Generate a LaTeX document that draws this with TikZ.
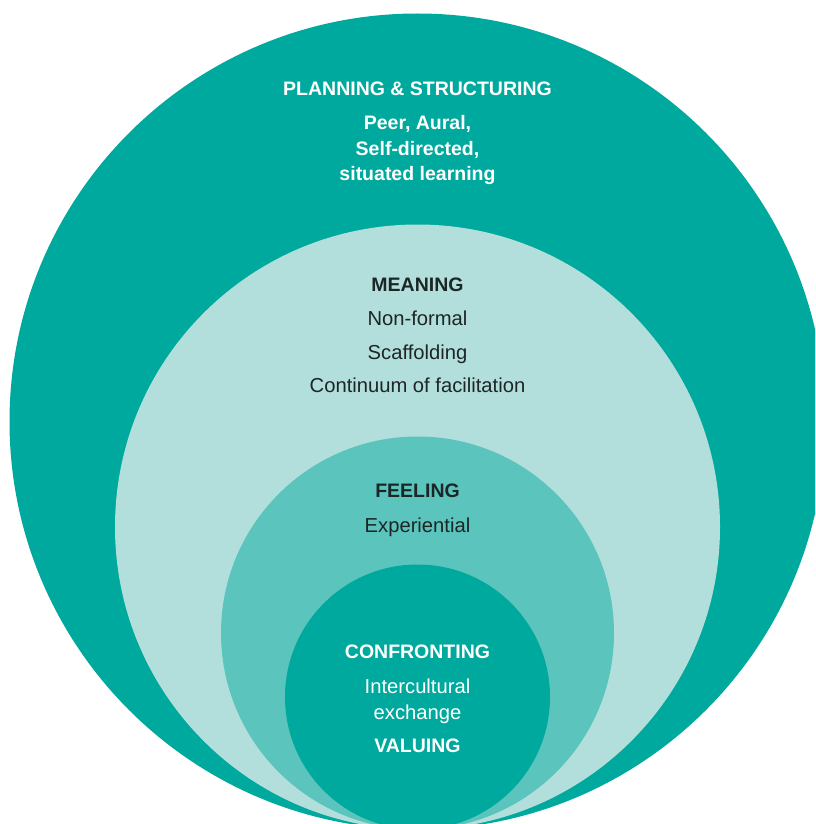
\documentclass[tikz,border=0pt]{standalone}
\usepackage{fontspec}
\setmainfont{Liberation Sans}
\definecolor{tealdark}{HTML}{00A99D}
\definecolor{teallight}{HTML}{B2DFDB}
\definecolor{tealmid}{HTML}{5BC4BC}
\definecolor{inkdark}{HTML}{1C2626}
\begin{document}
\begin{tikzpicture}[x=1pt,y=-1pt,
  ring/.style={fill=#1,draw=none},
  head/.style={anchor=base,inner sep=0pt,font=\fontsize{19.5}{22}\selectfont\bfseries},
  body/.style={anchor=base,inner sep=0pt,font=\fontsize{20.2}{22}\selectfont},
  bodybold/.style={anchor=base,inner sep=0pt,font=\fontsize{19.5}{22}\selectfont\bfseries},
  onteal/.style={text=white},
  onlight/.style={text=inkdark}]
\useasboundingbox (0,0) rectangle (815,824);
\clip (0,0) rectangle (815,824);
\fill[white] (0,0) rectangle (815,824);
\path[ring=tealdark]  (417.5,421.5) circle[radius=408];
\path[ring=teallight] (417.5,527) circle[radius=302.5];
\path[ring=tealmid]   (417.5,633) circle[radius=196.5];
\path[ring=tealdark]  (417.5,697) circle[radius=132.5];

\node[head,onteal] (ps) at (417.5,96) {PLANNING \& STRUCTURING};
\node[bodybold,onteal] (p1) at (417.5,130) {Peer, Aural,};
\node[bodybold,onteal] (p2) at (417.5,155) {Self-directed,};
\node[bodybold,onteal] (p3) at (417.5,180) {situated learning};

\node[head,onlight] (mn) at (417.5,291) {MEANING};
\node[body,onlight] (m1) at (417.5,325) {Non-formal};
\node[body,onlight] (m2) at (417.5,359) {Scaffolding};
\node[body,onlight] (m3) at (417.5,392) {Continuum of facilitation};

\node[head,onlight] (fe) at (417.5,497) {FEELING};
\node[body,onlight] (f1) at (417.5,532) {Experiential};

\node[head,onteal] (cf) at (417.5,658) {CONFRONTING};
\node[body,onteal] (c1) at (417.5,693) {Intercultural};
\node[body,onteal] (c2) at (417.5,719) {exchange};
\node[head,onteal] (va) at (417.5,752) {VALUING};
\end{tikzpicture}
\end{document}
